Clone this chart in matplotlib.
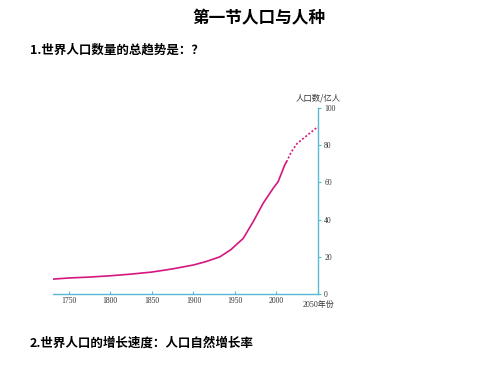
import matplotlib
matplotlib.use("Agg")
import matplotlib.pyplot as plt

plt.rcParams['font.family'] = ['Noto Sans CJK SC', 'DejaVu Sans']

years_solid = [1731, 1750, 1775, 1800, 1825, 1850, 1875, 1900, 1915, 1932, 1945,
               1960, 1972, 1984, 1996, 2002, 2010, 2012]
pop_solid = [8.0, 8.6, 9.1, 9.8, 10.7, 11.8, 13.5, 15.6, 17.4, 20.0, 23.8,
             29.9, 38.9, 48.8, 56.8, 60.4, 69.4, 71.0]
years_proj = [2012, 2018, 2025, 2050]
pop_proj = [71.0, 76.5, 81.0, 90.0]
xticks = [1750, 1800, 1850, 1900, 1950, 2000, 2050]
yticks = [0, 20, 40, 60, 80, 100]

line_color = '#d6167f'
axis_color = '#5bb8d4'

fig = plt.figure(figsize=(5, 3.75), dpi=100)
fig.patch.set_facecolor('white')

ax = fig.add_axes([0.106, 0.216, 0.530, 0.496])
ax.plot(years_solid, pop_solid, color=line_color, lw=1.2, solid_capstyle='round',
        solid_joinstyle='round')
ax.plot(years_proj, pop_proj, color=line_color, lw=1.2, ls=(0, (1.2, 1.2)))
ax.set_xlim(1731, 2050)
ax.set_ylim(0, 100)

for s in ['top', 'left']:
    ax.spines[s].set_visible(False)
for s in ['bottom', 'right']:
    ax.spines[s].set_color(axis_color)
    ax.spines[s].set_linewidth(1.0)

ax.yaxis.tick_right()
ax.set_yticks(yticks)
ax.set_xticks(xticks)
ax.set_xticklabels([str(x) for x in xticks[:-1]] + [''])
ax.tick_params(axis='both', colors=axis_color, labelcolor='#333333', labelsize=5.5, length=2.5, width=0.8)
ax.tick_params(axis='x', direction='in', pad=2)
ax.tick_params(axis='y', direction='out', pad=2)
for lab in ax.get_xticklabels() + ax.get_yticklabels():
    lab.set_fontfamily(['Liberation Serif', 'DejaVu Serif'])

ax.text(1.0, -0.06, '2050年份', transform=ax.transAxes, ha='center', va='center',
        fontsize=5.8, color='#333333', family=['Liberation Serif', 'Noto Sans CJK SC'])
ax.text(1.0, 1.03, '人口数/亿人', transform=ax.transAxes, ha='center', va='bottom',
        fontsize=6, color='#333333')

fig.text(0.518, 0.952, '第一节人口与人种', ha='center', va='center', fontsize=12, fontweight='bold')
fig.text(0.06, 0.867, '1.世界人口数量的总趋势是：？', ha='left', va='center', fontsize=9, fontweight='bold')
fig.text(0.06, 0.085, '2.世界人口的增长速度：人口自然增长率', ha='left', va='center', fontsize=9, fontweight='bold')

fig.savefig('out.png', dpi=100, facecolor='white')
